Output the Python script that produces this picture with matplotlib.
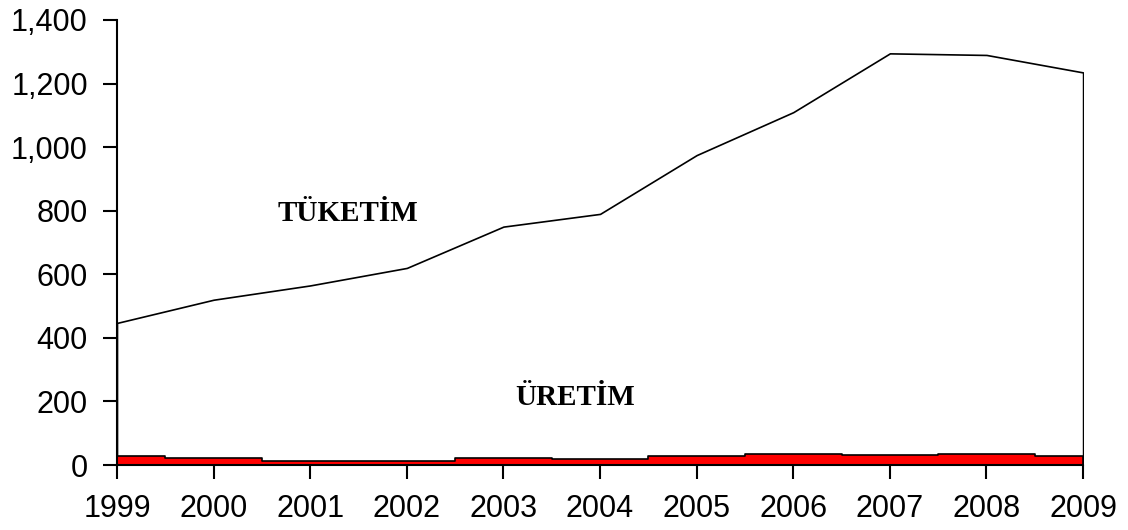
import matplotlib.pyplot as plt
from matplotlib.ticker import FuncFormatter

years = [1999, 2000, 2001, 2002, 2003, 2004, 2005, 2006, 2007, 2008, 2009]
tuketim = [447, 520, 565, 620, 750, 790, 975, 1110, 1295, 1290, 1235]
uretim = [28, 21, 13, 13, 21, 19, 28, 35, 30, 35, 28]

plt.rcParams['font.family'] = ['Liberation Sans', 'DejaVu Sans']

fig = plt.figure(figsize=(11.28, 5.30), dpi=100)
ax = fig.add_axes([0.1037, 0.1226, 0.8565, 0.8397])

ax.fill_between(years, tuketim, 0, facecolor='white', edgecolor='black', linewidth=1.2, zorder=1)
ax.fill_between(years, uretim, 0, step='mid', facecolor='#ff0000', edgecolor='black', linewidth=1.2, zorder=2)

ax.text(2001.39, 790, 'TÜKETİM', family=['Liberation Serif', 'DejaVu Serif'], fontweight='bold',
        fontsize=21, ha='center', va='center')
ax.text(2003.74, 211, 'ÜRETİM', family=['Liberation Serif', 'DejaVu Serif'], fontweight='bold',
        fontsize=21, ha='center', va='center')

ax.set_xlim(1999, 2009)
ax.set_ylim(0, 1400)
ax.set_xticks(years)
ax.set_yticks(range(0, 1401, 200))
ax.yaxis.set_major_formatter(FuncFormatter(lambda v, p: f'{int(v):,}'))

ax.spines['top'].set_visible(False)
ax.spines['right'].set_visible(False)
for s in ('left', 'bottom'):
    ax.spines[s].set_linewidth(1.5)
ax.tick_params(direction='out', length=10, width=1.5, labelsize=22, colors='black')
ax.tick_params(axis='y', pad=11)
ax.tick_params(axis='x', pad=11)

fig.savefig('out.png', dpi=100)
